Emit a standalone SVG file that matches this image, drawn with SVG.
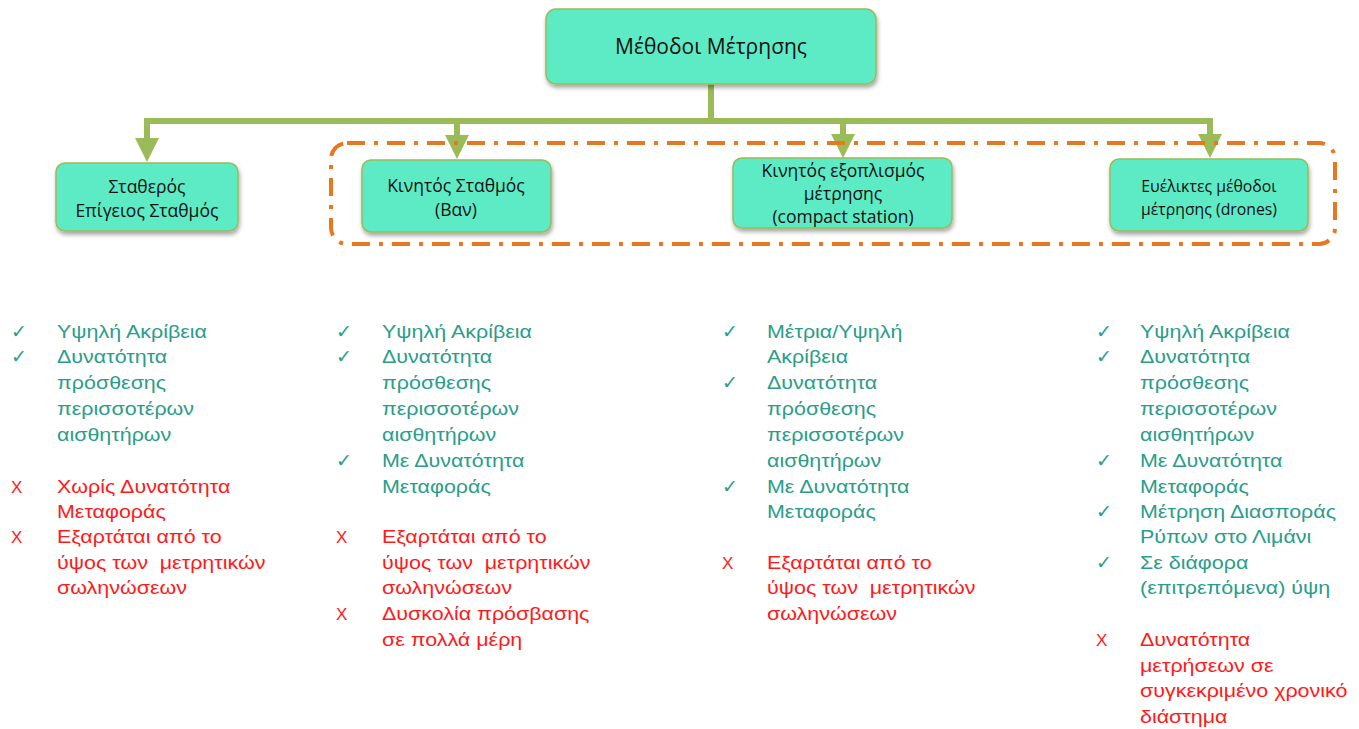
<svg xmlns="http://www.w3.org/2000/svg" width="1359" height="729" viewBox="0 0 1359 729">
<style>
.box{fill:#5DEBC6;stroke:#9BBB59;stroke-width:1.5;filter:url(#sh)}
.bt{font-family:"Open Sans","Liberation Sans",sans-serif;fill:#111;text-anchor:middle}
.con{stroke:#9BBB59;stroke-width:6;fill:none}
.ok{font-family:"Liberation Sans",Arial,sans-serif;font-size:18.5px;fill:#2A9D8A}
.no{font-family:"Liberation Sans",Arial,sans-serif;font-size:18.5px;fill:#FF1A1A}
.mx{font-family:"Liberation Sans",Arial,sans-serif;font-size:17px;fill:#FF1A1A}
</style>
<defs>
<filter id="sh" x="-10%" y="-10%" width="120%" height="140%">
<feDropShadow dx="1" dy="3" stdDeviation="2" flood-color="#000" flood-opacity="0.35"/>
</filter>
<marker id="ah" markerWidth="4" markerHeight="4" refX="2" refY="2" orient="auto" markerUnits="strokeWidth" viewBox="0 0 4 4">
<path d="M0,0 L4,2 L0,4 Z" fill="#9BBB59"/>
</marker>
</defs>
<g id="connectors">
<path class="con" d="M711,84 V121"/>
<path class="con" d="M144,121 H1213"/>
<path class="con" d="M147,121 V150" marker-end="url(#ah)"/>
<path class="con" d="M457,121 V147" marker-end="url(#ah)"/>
<path class="con" d="M843,121 V146" marker-end="url(#ah)"/>
<path class="con" d="M1210,121 V146" marker-end="url(#ah)"/>
</g>
<g id="group-frame">
<rect x="331" y="143" width="1004" height="101" rx="16" fill="none" stroke="#E87722" stroke-width="4" stroke-dasharray="18,9,4,9"/>
</g>
<g id="root">
<rect class="box" x="546" y="9" width="330" height="75" rx="10"/>
<text class="bt" x="711" y="54" font-size="21">Μέθοδοι Μέτρησης</text>
</g>
<g id="n1">
<rect class="box" x="56" y="163" width="182" height="68" rx="9"/>
<text class="bt" x="147" y="193" font-size="17.5">Σταθερός</text>
<text class="bt" x="147" y="217" font-size="17.5">Επίγειος Σταθμός</text>
</g>
<g id="n2">
<rect class="box" x="362" y="160" width="189" height="72" rx="9"/>
<text class="bt" x="456" y="192" font-size="17.5">Κινητός Σταθμός</text>
<text class="bt" x="456" y="216" font-size="17.5">(Βαν)</text>
</g>
<g id="n3">
<rect class="box" x="733" y="158" width="219" height="70" rx="9"/>
<text class="bt" x="843" y="177" font-size="17.5">Κινητός εξοπλισμός</text>
<text class="bt" x="843" y="200" font-size="17.5">μέτρησης</text>
<text class="bt" x="843" y="223" font-size="17.5">(compact station)</text>
</g>
<g id="n4">
<rect class="box" x="1110" y="159" width="198" height="72" rx="9"/>
<text class="bt" x="1209" y="192" font-size="15.8">Ευέλικτες μέθοδοι</text>
<text class="bt" x="1209" y="215" font-size="15.8">μέτρησης (drones)</text>
</g>
<g id="list1">
<text class="ok" x="11" y="338">✓</text>
<text class="ok" x="11" y="363">✓</text>
<text class="mx" x="11" y="493">X</text>
<text class="mx" x="11" y="543">X</text>
<g transform="translate(57 0) scale(1.16 1)">
<text class="ok" y="338">Υψηλή Ακρίβεια</text>
<text class="ok" y="363">Δυνατότητα</text>
<text class="ok" y="389">πρόσθεσης</text>
<text class="ok" y="415">περισσοτέρων</text>
<text class="ok" y="441">αισθητήρων</text>
<text class="no" y="493">Χωρίς Δυνατότητα</text>
<text class="no" y="518">Μεταφοράς</text>
<text class="no" y="543">Εξαρτάται από το</text>
<text class="no" y="569">ύψος των &#160;μετρητικών</text>
<text class="no" y="594">σωληνώσεων</text>
</g>
</g>
<g id="list2">
<text class="ok" x="336" y="338">✓</text>
<text class="ok" x="336" y="363">✓</text>
<text class="ok" x="336" y="467">✓</text>
<text class="mx" x="336" y="543">X</text>
<text class="mx" x="336" y="620">X</text>
<g transform="translate(382 0) scale(1.16 1)">
<text class="ok" y="338">Υψηλή Ακρίβεια</text>
<text class="ok" y="363">Δυνατότητα</text>
<text class="ok" y="389">πρόσθεσης</text>
<text class="ok" y="415">περισσοτέρων</text>
<text class="ok" y="441">αισθητήρων</text>
<text class="ok" y="467">Με Δυνατότητα</text>
<text class="ok" y="493">Μεταφοράς</text>
<text class="no" y="543">Εξαρτάται από το</text>
<text class="no" y="569">ύψος των &#160;μετρητικών</text>
<text class="no" y="594">σωληνώσεων</text>
<text class="no" y="620">Δυσκολία πρόσβασης</text>
<text class="no" y="646">σε πολλά μέρη</text>
</g>
</g>
<g id="list3">
<text class="ok" x="722" y="338">✓</text>
<text class="ok" x="722" y="389">✓</text>
<text class="ok" x="722" y="493">✓</text>
<text class="mx" x="722" y="569">X</text>
<g transform="translate(767 0) scale(1.16 1)">
<text class="ok" y="338">Μέτρια/Υψηλή</text>
<text class="ok" y="363">Ακρίβεια</text>
<text class="ok" y="389">Δυνατότητα</text>
<text class="ok" y="415">πρόσθεσης</text>
<text class="ok" y="441">περισσοτέρων</text>
<text class="ok" y="467">αισθητήρων</text>
<text class="ok" y="493">Με Δυνατότητα</text>
<text class="ok" y="518">Μεταφοράς</text>
<text class="no" y="569">Εξαρτάται από το</text>
<text class="no" y="594">ύψος των &#160;μετρητικών</text>
<text class="no" y="620">σωληνώσεων</text>
</g>
</g>
<g id="list4">
<text class="ok" x="1096" y="338">✓</text>
<text class="ok" x="1096" y="363">✓</text>
<text class="ok" x="1096" y="467">✓</text>
<text class="ok" x="1096" y="518">✓</text>
<text class="ok" x="1096" y="569">✓</text>
<text class="mx" x="1096" y="646">X</text>
<g transform="translate(1140 0) scale(1.16 1)">
<text class="ok" y="338">Υψηλή Ακρίβεια</text>
<text class="ok" y="363">Δυνατότητα</text>
<text class="ok" y="389">πρόσθεσης</text>
<text class="ok" y="415">περισσοτέρων</text>
<text class="ok" y="441">αισθητήρων</text>
<text class="ok" y="467">Με Δυνατότητα</text>
<text class="ok" y="493">Μεταφοράς</text>
<text class="ok" y="518">Μέτρηση Διασποράς</text>
<text class="ok" y="543">Ρύπων στο Λιμάνι</text>
<text class="ok" y="569">Σε διάφορα</text>
<text class="ok" y="594">(επιτρεπόμενα) ύψη</text>
<text class="no" y="646">Δυνατότητα</text>
<text class="no" y="672">μετρήσεων σε</text>
<text class="no" y="697">συγκεκριμένο χρονικό</text>
<text class="no" y="723">διάστημα</text>
</g>
</g>
</svg>
